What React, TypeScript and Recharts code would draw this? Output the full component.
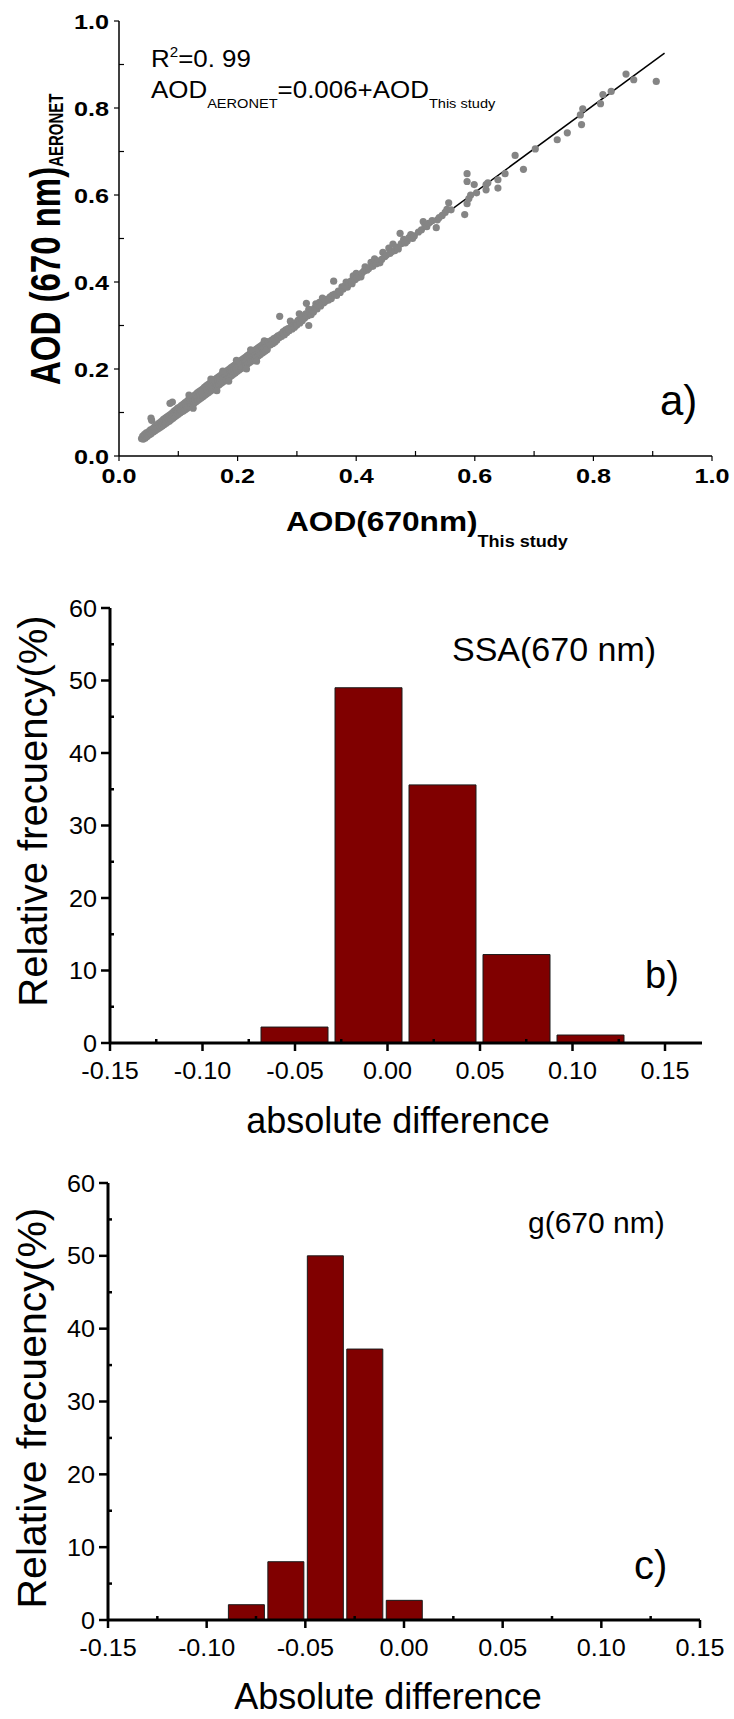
import React from 'react';
import { ComposedChart, BarChart, Bar, Scatter, Line, XAxis, YAxis } from 'recharts';

const FONT = '"Liberation Sans", Arial, Helvetica, sans-serif';

// ---------- Panel a: AOD scatter ----------
const aTicks = [0, 0.1, 0.2, 0.3, 0.4, 0.5, 0.6, 0.7, 0.8, 0.9, 1.0];
const fitStudy = [0.04, 0.92];
const fitAeronet = [0.046, 0.926];
const aodPairs: [number, number][] = [
  [0.038,0.040],[0.040,0.046],[0.041,0.039],[0.042,0.043],[0.043,0.050],[0.044,0.041],[0.045,0.047],[0.046,0.053],
  [0.047,0.044],[0.048,0.051],[0.049,0.047],[0.050,0.056],[0.051,0.049],[0.052,0.054],[0.053,0.060],[0.054,0.051],
  [0.054,0.087],[0.055,0.082],[0.056,0.058],[0.057,0.063],[0.058,0.055],[0.059,0.061],[0.060,0.067],[0.061,0.058],
  [0.062,0.064],[0.063,0.071],[0.064,0.061],[0.065,0.068],[0.066,0.074],[0.067,0.064],[0.068,0.070],[0.069,0.077],
  [0.070,0.066],[0.071,0.073],[0.072,0.080],[0.073,0.069],[0.074,0.076],[0.075,0.084],[0.076,0.072],[0.077,0.079],
  [0.078,0.087],[0.079,0.075],[0.080,0.082],[0.081,0.090],[0.082,0.078],[0.083,0.085],[0.084,0.093],[0.085,0.080],
  [0.086,0.088],[0.087,0.096],[0.088,0.084],[0.089,0.091],[0.090,0.099],[0.090,0.124],[0.086,0.121],[0.091,0.087],
  [0.092,0.095],[0.093,0.103],[0.094,0.090],[0.095,0.098],[0.096,0.106],[0.097,0.093],[0.098,0.101],[0.099,0.110],
  [0.100,0.096],[0.100,0.104],
  [0.102,0.112],[0.103,0.099],[0.104,0.107],[0.105,0.116],[0.106,0.102],[0.107,0.110],[0.108,0.119],[0.109,0.104],
  [0.110,0.113],[0.111,0.122],[0.112,0.107],[0.113,0.116],[0.114,0.125],[0.115,0.110],[0.116,0.119],[0.117,0.129],
  [0.118,0.113],[0.119,0.122],[0.120,0.132],[0.121,0.116],[0.122,0.125],[0.123,0.135],[0.124,0.119],[0.125,0.128],
  [0.126,0.138],[0.127,0.122],[0.128,0.131],[0.129,0.141],[0.130,0.125],[0.131,0.134],[0.132,0.145],[0.133,0.128],
  [0.134,0.137],[0.135,0.148],[0.136,0.131],[0.137,0.140],[0.138,0.151],[0.139,0.134],[0.140,0.143],[0.141,0.154],
  [0.142,0.137],[0.143,0.147],[0.144,0.158],[0.145,0.140],[0.146,0.150],[0.147,0.161],[0.148,0.143],[0.149,0.153],
  [0.150,0.164],[0.151,0.146],[0.152,0.156],[0.153,0.167],[0.154,0.149],[0.155,0.159],[0.156,0.170],[0.157,0.152],
  [0.158,0.162],[0.159,0.173],[0.160,0.155],[0.161,0.165],[0.162,0.176],[0.163,0.158],[0.164,0.168],[0.165,0.179],
  [0.166,0.161],[0.167,0.171],[0.168,0.182],[0.169,0.164],[0.170,0.174],[0.171,0.185],[0.172,0.167],[0.173,0.177],
  [0.174,0.188],[0.175,0.170],[0.176,0.180],[0.177,0.191],[0.178,0.173],[0.179,0.183],[0.180,0.194],[0.181,0.176],
  [0.182,0.186],[0.183,0.197],[0.184,0.179],[0.185,0.189],[0.186,0.200],[0.187,0.182],[0.188,0.192],[0.189,0.203],
  [0.190,0.185],[0.191,0.195],[0.192,0.206],[0.193,0.188],[0.194,0.198],[0.195,0.209],[0.196,0.191],[0.197,0.201],
  [0.198,0.212],[0.199,0.194],[0.200,0.204],[0.201,0.215],[0.202,0.197],[0.203,0.207],[0.204,0.218],[0.205,0.200],
  [0.206,0.210],[0.207,0.221],[0.208,0.203],[0.209,0.213],[0.210,0.224],[0.211,0.206],[0.212,0.216],[0.213,0.227],
  [0.214,0.209],[0.215,0.219],[0.216,0.230],[0.217,0.212],[0.218,0.222],[0.219,0.233],[0.220,0.215],[0.221,0.225],
  [0.222,0.236],[0.223,0.218],[0.224,0.228],[0.225,0.239],[0.226,0.221],[0.227,0.231],[0.228,0.242],[0.229,0.224],
  [0.230,0.234],[0.231,0.245],[0.232,0.227],[0.233,0.237],[0.234,0.248],[0.235,0.230],[0.236,0.240],[0.237,0.251],
  [0.238,0.233],[0.239,0.243],[0.240,0.254],[0.241,0.236],[0.242,0.246],[0.243,0.257],[0.244,0.239],[0.245,0.249],
  [0.246,0.260],[0.247,0.242],[0.248,0.252],[0.249,0.263],[0.250,0.245],
  [0.118,0.140],[0.125,0.110],[0.155,0.177],[0.165,0.150],[0.175,0.195],[0.185,0.172],[0.198,0.220],[0.215,0.200],
  [0.222,0.244],[0.232,0.218],[0.245,0.265],
  [0.252,0.262],[0.255,0.255],[0.257,0.266],[0.259,0.258],[0.261,0.270],[0.263,0.262],[0.265,0.273],[0.266,0.266],
  [0.268,0.276],[0.270,0.272],[0.271,0.321],[0.272,0.279],[0.274,0.275],[0.276,0.283],[0.277,0.286],[0.279,0.279],
  [0.281,0.290],[0.283,0.284],[0.285,0.293],[0.287,0.288],[0.289,0.310],[0.290,0.297],[0.292,0.292],[0.294,0.301],
  [0.296,0.296],[0.298,0.306],[0.300,0.301],[0.302,0.312],[0.304,0.327],[0.305,0.306],[0.307,0.316],[0.309,0.311],
  [0.311,0.322],[0.313,0.317],[0.315,0.327],[0.316,0.351],[0.318,0.322],[0.320,0.300],[0.320,0.337],[0.322,0.330],
  [0.324,0.325],[0.326,0.336],[0.328,0.331],[0.330,0.340],[0.332,0.350],[0.334,0.338],[0.336,0.346],[0.338,0.353],
  [0.340,0.345],[0.343,0.363],[0.345,0.352],[0.348,0.356],[0.350,0.360],[0.353,0.358],[0.356,0.366],[0.358,0.362],
  [0.362,0.402],[0.360,0.370],[0.364,0.372],[0.367,0.369],[0.370,0.379],[0.373,0.376],[0.376,0.389],[0.378,0.384],
  [0.381,0.391],[0.383,0.400],[0.385,0.388],[0.388,0.396],[0.391,0.402],[0.393,0.396],[0.395,0.414],[0.398,0.405],
  [0.400,0.420],[0.402,0.410],[0.405,0.415],[0.408,0.412],[0.410,0.421],[0.413,0.425],[0.415,0.435],[0.418,0.427],
  [0.421,0.431],[0.425,0.445],[0.428,0.436],[0.431,0.453],[0.434,0.442],[0.437,0.448],[0.440,0.444],[0.443,0.452],
  [0.445,0.468],[0.448,0.458],[0.451,0.462],[0.455,0.478],[0.457,0.466],[0.460,0.470],[0.462,0.487],[0.465,0.472],
  [0.468,0.480],[0.471,0.476],[0.474,0.512],[0.476,0.488],[0.480,0.498],[0.483,0.490],[0.486,0.494],[0.489,0.502],
  [0.492,0.509],[0.495,0.500],[0.498,0.506],
  [0.505,0.515],[0.510,0.520],[0.513,0.539],[0.516,0.530],[0.519,0.527],[0.522,0.535],[0.528,0.541],[0.535,0.525],
  [0.537,0.543],[0.540,0.548],[0.545,0.553],[0.550,0.560],[0.553,0.567],[0.556,0.582],[0.560,0.566],[0.583,0.555],
  [0.587,0.580],[0.587,0.631],[0.587,0.649],[0.590,0.592],[0.593,0.600],[0.599,0.624],[0.603,0.605],[0.619,0.612],
  [0.619,0.624],[0.622,0.628],[0.639,0.616],[0.639,0.635],[0.651,0.649],[0.668,0.691],[0.682,0.659],[0.702,0.706],
  [0.739,0.727],[0.756,0.743],[0.778,0.784],[0.780,0.762],[0.782,0.798],[0.812,0.810],[0.816,0.831],[0.830,0.838],
  [0.855,0.878],[0.868,0.865],[0.906,0.861],
];

// ---------- Panel b: SSA histogram ----------
const ssaBins = [-0.13, -0.09, -0.05, -0.01, 0.03, 0.07, 0.11, 0.15];
const ssaFreq = [0, 0, 2.2, 49.0, 35.6, 12.2, 1.1, 0];
const bXTicks = [-0.15, -0.125, -0.1, -0.075, -0.05, -0.025, 0, 0.025, 0.05, 0.075, 0.1, 0.125, 0.15];

// ---------- Panel c: g histogram ----------
const gBins = [-0.12, -0.10, -0.08, -0.06, -0.04, -0.02, 0.0, 0.02, 0.04];
const gFreq = [0, 0, 2.1, 8.0, 50.0, 37.2, 2.7, 0, 0];
const cXTicks = [-0.15, -0.125, -0.1, -0.075, -0.05, -0.025, 0, 0.025, 0.05, 0.075, 0.1, 0.125, 0.15];

const freqTicks = [0, 5, 10, 15, 20, 25, 30, 35, 40, 45, 50, 55, 60];

const scatterData = aodPairs.map(([x, y]) => ({ x, y }));
const fitData = fitStudy.map((x, i) => ({ x, y: fitAeronet[i] }));
const ssaData = ssaBins.map((x, i) => ({ x, v: ssaFreq[i] }));
const gData = gBins.map((x, i) => ({ x, v: gFreq[i] }));

type TickOpts = {
  major: number;
  majorLen: number;
  minorLen: number;
  sw: number;
  gap: number;
  fontSize: number;
  bold?: boolean;
  digits: number;
  sx: number;
};

const isMajorVal = (v: number, major: number) => {
  const r = v / major;
  return Math.abs(r - Math.round(r)) < 1e-6;
};

function bottomTick(o: TickOpts) {
  return (props: any) => {
    const { x, y, payload } = props;
    const v = payload.value as number;
    const maj = isMajorVal(v, o.major);
    return (
      <g>
        <line x1={x} x2={x} y1={y} y2={maj ? y + o.majorLen : y - o.minorLen} stroke="#000" strokeWidth={o.sw} />
        {maj && (
          <text transform={`translate(${x},${y + o.gap}) scale(${o.sx},1)`} textAnchor="middle" fontFamily={FONT}
            fontSize={o.fontSize} fontWeight={o.bold ? 'bold' : 'normal'} fill="#000">{v.toFixed(o.digits)}</text>
        )}
      </g>
    );
  };
}

function leftTick(o: TickOpts) {
  return (props: any) => {
    const { x, y, payload } = props;
    const v = payload.value as number;
    const maj = isMajorVal(v, o.major);
    return (
      <g>
        <line x1={x} x2={maj ? x - o.majorLen : x + o.minorLen} y1={y} y2={y} stroke="#000" strokeWidth={o.sw} />
        {maj && (
          <text transform={`translate(${x - o.gap},${y + o.fontSize * 0.36}) scale(${o.sx},1)`} textAnchor="end"
            fontFamily={FONT} fontSize={o.fontSize} fontWeight={o.bold ? 'bold' : 'normal'} fill="#000">
            {v.toFixed(o.digits)}
          </text>
        )}
      </g>
    );
  };
}

function topTick(len: number, sw: number) {
  return (props: any) => {
    const { x, y } = props;
    return <line x1={x} x2={x} y1={y} y2={y + len} stroke="#000" strokeWidth={sw} />;
  };
}

function rightTick(len: number, sw: number) {
  return (props: any) => {
    const { x, y } = props;
    return <line x1={x} x2={x - len} y1={y} y2={y} stroke="#000" strokeWidth={sw} />;
  };
}

const dot = (p: any) => <circle cx={p.cx} cy={p.cy} r={3.6} fill="#858585" />;

const aBottom = bottomTick({ major: 0.2, majorLen: 5, minorLen: 5, sw: 1.2, gap: 27, fontSize: 21, bold: true, digits: 1, sx: 1.2 });
const aLeft = leftTick({ major: 0.2, majorLen: 5, minorLen: 5, sw: 1.2, gap: 10, fontSize: 21, bold: true, digits: 1, sx: 1.2 });
const hBottom = bottomTick({ major: 0.05, majorLen: 8, minorLen: 4, sw: 2.5, gap: 36, fontSize: 24, digits: 2, sx: 1.05 });
const hLeft = leftTick({ major: 10, majorLen: 9, minorLen: 4, sw: 2.5, gap: 13, fontSize: 24, digits: 0, sx: 1.05 });

const axisA = { stroke: '#000', strokeWidth: 1.5 };
const axisH = { stroke: '#000', strokeWidth: 3 };

function PanelA() {
  return (
    <ComposedChart width={734} height={560} margin={{ top: 21, right: 22, bottom: 64, left: 59 }}>
      <XAxis dataKey="x" type="number" domain={[0, 1]} ticks={aTicks} interval={0} allowDataOverflow
        height={40} tickSize={0} tickMargin={0} axisLine={axisA} tickLine={false} tick={aBottom} />
      <XAxis xAxisId="top" orientation="top" dataKey="x" type="number" domain={[0, 1]} ticks={aTicks} interval={0}
        allowDataOverflow height={0} tickSize={0} tickMargin={0} axisLine={axisA} tickLine={false} tick={topTick(5, 1.2)} />
      <YAxis dataKey="y" type="number" domain={[0, 1]} ticks={aTicks} interval={0} allowDataOverflow
        width={60} tickSize={0} tickMargin={0} axisLine={axisA} tickLine={false} tick={aLeft} />
      <YAxis yAxisId="right" orientation="right" dataKey="y" type="number" domain={[0, 1]} ticks={aTicks} interval={0}
        allowDataOverflow width={0} tickSize={0} tickMargin={0} axisLine={axisA} tickLine={false} tick={rightTick(5, 1.2)} />
      <Scatter data={scatterData} dataKey="y" shape={dot} isAnimationActive={false} />
      <Line data={fitData} dataKey="y" type="linear" stroke="#000" strokeWidth={1.5} dot={false} isAnimationActive={false} />
    </ComposedChart>
  );
}

function Histogram(props: {
  data: { x: number; v: number }[];
  bins: number[];
  xTicks: number[];
  domain: [number, number];
  height: number;
  margin: { top: number; right: number; bottom: number; left: number };
  barSize: number;
}) {
  const { data, bins, xTicks, domain, height, margin, barSize } = props;
  return (
    <BarChart width={734} height={height} margin={margin} data={data}>
      <XAxis dataKey="x" type="number" domain={domain} ticks={xTicks} interval={0} allowDataOverflow
        height={40} tickSize={0} tickMargin={0} axisLine={axisH} tickLine={false} tick={hBottom} />
      <XAxis xAxisId="bins" dataKey="x" type="number" domain={domain} ticks={bins} interval={0} allowDataOverflow
        hide height={0} />
      <XAxis xAxisId="top" orientation="top" dataKey="x" type="number" domain={domain} ticks={xTicks} interval={0}
        allowDataOverflow height={0} tickSize={0} tickMargin={0} axisLine={axisH} tickLine={false} tick={topTick(4, 2)} />
      <YAxis type="number" domain={[0, 60]} ticks={freqTicks} interval={0} allowDataOverflow
        width={60} tickSize={0} tickMargin={0} axisLine={axisH} tickLine={false} tick={hLeft} />
      <YAxis yAxisId="right" orientation="right" type="number" domain={[0, 60]} ticks={freqTicks} interval={0}
        allowDataOverflow width={0} tickSize={0} tickMargin={0} axisLine={axisH} tickLine={false} tick={rightTick(4, 2)} />
      <Bar xAxisId="bins" dataKey="v" barSize={barSize} fill="#800000" stroke="#1a1a1a" strokeWidth={1}
        isAnimationActive={false} />
    </BarChart>
  );
}

export default function App() {
  return (
    <div style={{ position: 'absolute', left: 0, top: 0, width: 734, height: 1719, background: '#fff', overflow: 'hidden' }}>
      <div style={{ position: 'absolute', left: 0, top: 0 }}>
        <PanelA />
      </div>
      <div style={{ position: 'absolute', left: 0, top: 580 }}>
        <Histogram data={ssaData} bins={ssaBins} xTicks={bXTicks} domain={[-0.15, 0.17]} height={580}
          margin={{ top: 28, right: 32, bottom: 77, left: 50 }} barSize={67} />
      </div>
      <div style={{ position: 'absolute', left: 0, top: 1160 }}>
        <Histogram data={gData} bins={gBins} xTicks={cXTicks} domain={[-0.15, 0.15]} height={559}
          margin={{ top: 23, right: 34, bottom: 59, left: 48 }} barSize={36} />
      </div>
      <svg width={734} height={1719} style={{ position: 'absolute', left: 0, top: 0, pointerEvents: 'none' }}
        fontFamily={FONT}>
        {/* Panel a annotations */}
        <text transform="translate(151,67) scale(1.08,1)" fontSize={24} fill="#000">R<tspan dy={-10} fontSize={14}>2</tspan><tspan dy={10}>=0. 99</tspan></text>
        <text transform="translate(151,98) scale(1.08,1)" fontSize={24} fill="#000">AOD<tspan dy={10} fontSize={13.5}>AERONET</tspan><tspan dy={-10}>=0.006+AOD</tspan><tspan dy={10} fontSize={13.5}>This study</tspan></text>
        <text x={660} y={415} fontSize={42} fill="#000">a)</text>
        <text transform="translate(286,531) scale(1.13,1)" fontSize={28} fontWeight="bold" fill="#000">AOD(670nm)<tspan dy={16} fontSize={16}>This study</tspan></text>
        <text transform="translate(60,385) scale(1.3,1) rotate(-90)" fontSize={33} fontWeight="bold" fill="#000">AOD (670 nm)<tspan dy={2} fontSize={15}>AERONET</tspan></text>
        {/* Panel b */}
        <text x={452} y={661} fontSize={34} fill="#000">SSA(670 nm)</text>
        <text x={645} y={988} fontSize={38} fill="#000">b)</text>
        <text x={398} y={1133} fontSize={36} textAnchor="middle" fill="#000">absolute difference</text>
        <text transform="translate(47,811) rotate(-90)" fontSize={40} textAnchor="middle" fill="#000">Relative frecuency(%)</text>
        {/* Panel c */}
        <text x={528} y={1233} fontSize={30} fill="#000">g(670 nm)</text>
        <text x={634} y={1579} fontSize={40} fill="#000">c)</text>
        <text x={388} y={1709} fontSize={36} textAnchor="middle" fill="#000">Absolute difference</text>
        <text transform="translate(46,1408) rotate(-90)" fontSize={41} textAnchor="middle" fill="#000">Relative frecuency(%)</text>
      </svg>
    </div>
  );
}
